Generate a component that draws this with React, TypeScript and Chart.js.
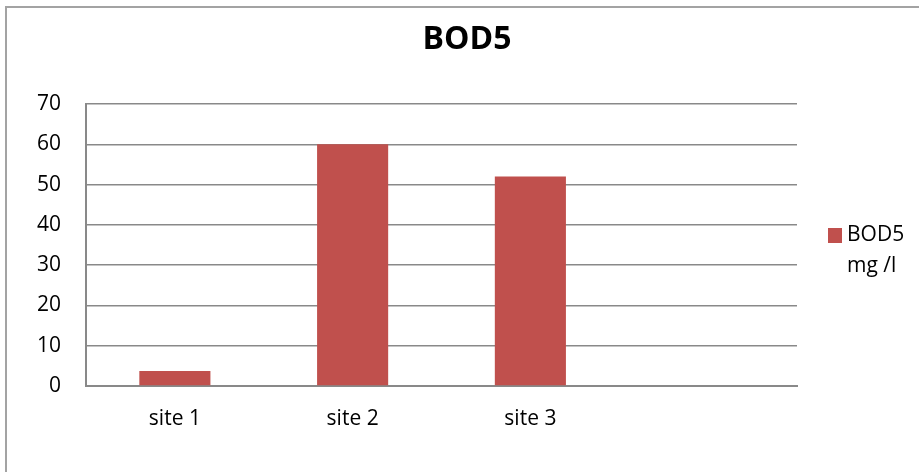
import React, { useEffect, useRef } from "react";
import { Chart, registerables } from "chart.js";

Chart.register(...registerables);

const categories = ["site 1", "site 2", "site 3", ""];
const bodValues = [3.7, 60, 52, null];
const seriesLabel = ["BOD5", "mg /l"];
const yTicks = [0, 10, 20, 30, 40, 50, 60, 70];
const titleText = "BOD5";

const FONT = "'Open Sans', 'Noto Sans', sans-serif";
const BAR_COLOR = "#C0504D";
const GRID_COLOR = "#898989";

const overlayPlugin = {
  id: "titleAndLegend",
  afterDraw(chart: any) {
    const { ctx, chartArea } = chart;
    ctx.save();
    // title
    ctx.fillStyle = "#000";
    ctx.font = `bold 32px ${FONT}`;
    ctx.textAlign = "center";
    ctx.textBaseline = "middle";
    ctx.fillText(titleText, 467, 40);
    // legend
    const x = chartArea.right + 31;
    const y = 228;
    ctx.fillStyle = BAR_COLOR;
    ctx.fillRect(x, y, 14, 15);
    ctx.fillStyle = "#000";
    ctx.font = `21px ${FONT}`;
    ctx.textBaseline = "middle";
    ctx.textAlign = "left";
    ctx.fillText(seriesLabel[0], x + 19, 235);
    ctx.fillText(seriesLabel[1], x + 19, 266);
    ctx.restore();
  },
};

export default function App() {
  const ref = useRef<HTMLCanvasElement | null>(null);
  useEffect(() => {
    document.body.style.margin = "0";
    if (!ref.current) return;
    const chart = new Chart(ref.current, {
      type: "bar",
      data: {
        labels: categories,
        datasets: [
          {
            label: seriesLabel.join(" "),
            data: bodValues as any,
            backgroundColor: BAR_COLOR,
            barPercentage: 0.8,
            categoryPercentage: 0.5,
          },
        ],
      },
      options: {
        animation: false,
        responsive: false,
        maintainAspectRatio: false,
        layout: { padding: { left: 0, right: 122, top: 104, bottom: 0 } },
        plugins: {
          legend: { display: false },
          tooltip: { enabled: false },
          title: { display: false },
        },
        scales: {
          x: {
            grid: { display: false, drawTicks: false },
            border: { display: true, color: GRID_COLOR, width: 2 },
            ticks: {
              color: "#000",
              font: { family: FONT, size: 21 },
              padding: 20,
              maxRotation: 0,
            },
            afterFit(scale: any) {
              scale.height = 86;
            },
          },
          y: {
            min: 0,
            max: 70,
            afterBuildTicks(scale: any) {
              scale.ticks = yTicks.map((v) => ({ value: v }));
            },
            grid: { color: GRID_COLOR, lineWidth: 1.5, drawTicks: false },
            border: { display: true, color: GRID_COLOR, width: 2 },
            ticks: {
              color: "#000",
              font: { family: FONT, size: 21 },
              padding: 25,
            },
            afterFit(scale: any) {
              scale.width = 86;
            },
          },
        },
      },
      plugins: [overlayPlugin],
    });
    return () => chart.destroy();
  }, []);

  return (
    <div style={{ position: "fixed", left: 0, top: 0, width: 919, height: 472, background: "#fff", overflow: "hidden" }}>
      <div
        style={{
          position: "absolute",
          left: 5,
          top: 6,
          width: 1000,
          height: 1000,
          borderLeft: "2px solid #a3a3a3",
          borderTop: "2px solid #a3a3a3",
        }}
      />
      <canvas ref={ref} width={919} height={472} style={{ position: "absolute", left: 0, top: 0 }} />
    </div>
  );
}
